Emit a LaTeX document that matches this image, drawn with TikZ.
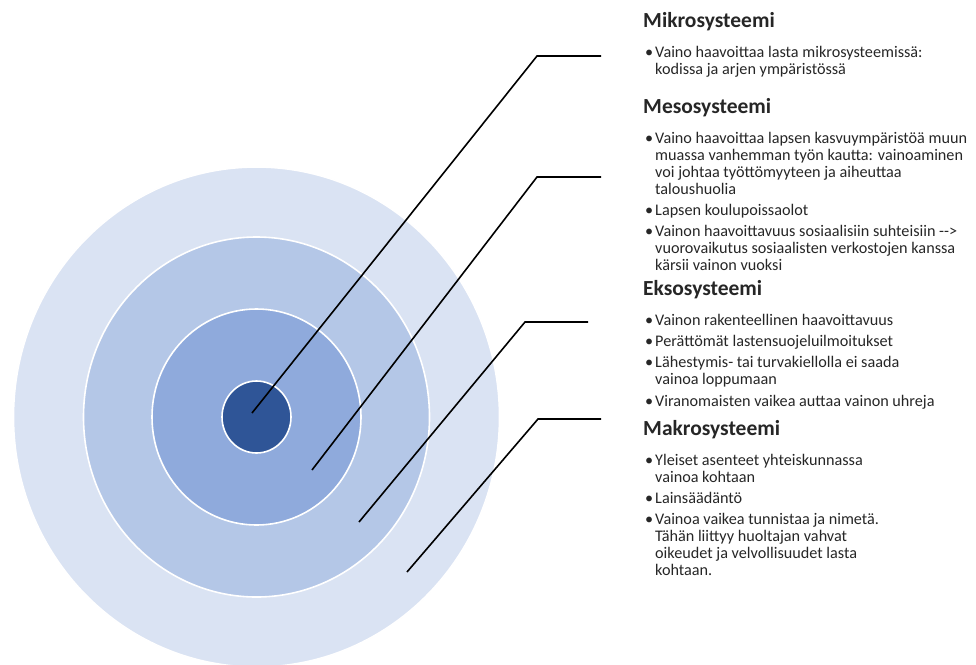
\documentclass[tikz,border=0pt]{standalone}
\usepackage{fontspec}
\setmainfont{Carlito}
\usepackage{tikz}
\usetikzlibrary{positioning}

\definecolor{rengasA}{HTML}{2F5597}
\definecolor{rengasB}{HTML}{8FAADC}
\definecolor{rengasC}{HTML}{B4C7E7}
\definecolor{rengasD}{HTML}{DAE3F3}
\definecolor{teksti}{HTML}{262626}

\newcommand{\pallo}{\strut\makebox[10pt][l]{\textbullet}}
\newcommand{\sis}{\strut\hspace*{10pt}}

\tikzset{
  otsikko/.style={anchor=base west, inner sep=0pt, text=teksti,
    font=\fontsize{21.5}{25}\selectfont\bfseries},
  kohta/.style={inner sep=0pt, align=left, text=teksti,
    font=\fontsize{16.2}{17}\selectfont},
  rengas/.style={draw=white, line width=1.6pt},
  viiva/.style={line width=1.6pt, black}
}

\begin{document}
\begin{tikzpicture}[x=1pt, y=-1pt]
      \useasboundingbox (0,0) rectangle (976,664);
      %
      \coordinate (o) at (256.5,417);
      \fill[rengasD, rengas] (o) ellipse [x radius=243, y radius=250];
      \fill[rengasC, rengas] (o) ellipse [x radius=173, y radius=180];
      \fill[rengasB, rengas] (o) ellipse [x radius=104.5, y radius=108];
      \fill[rengasA, rengas] (o) ellipse [x radius=34.5, y radius=36];
      %
      \coordinate (p1) at (252,413);
      \coordinate (k1) at (537,56);
      \coordinate (v1) at (601,56);
      \coordinate (p2) at (312,470);
      \coordinate (k2) at (537,177);
      \coordinate (v2) at (601,177);
      \coordinate (p3) at (359,522);
      \coordinate (k3) at (525,322);
      \coordinate (v3) at (588,322);
      \coordinate (p4) at (407,572);
      \coordinate (k4) at (538,419);
      \coordinate (v4) at (601,419);
      \draw[viiva] (p1) -- (k1) -- (v1);
      \draw[viiva] (p2) -- (k2) -- (v2);
      \draw[viiva] (p3) -- (k3) -- (v3);
      \draw[viiva] (p4) -- (k4) -- (v4);
      %
      \node[otsikko] (mikro) at (643,27) {Mikrosysteemi};
      \node[kohta, below right=18pt and 2pt of mikro.base west] (mi1)
        {\pallo Vaino haavoittaa lasta mikrosysteemissä:\\\sis kodissa ja arjen ympäristössä};
      %
      \node[otsikko] (meso) at (643,113) {Mesosysteemi};
      \node[kohta, below right=18pt and 2pt of meso.base west] (me1)
        {\pallo Vaino haavoittaa lapsen kasvuympäristöä muun\\\sis muassa vanhemman työn kautta: vainoaminen\\\sis voi johtaa työttömyyteen ja aiheuttaa\\\sis taloushuolia};
      \node[kohta, below right=4pt and 0pt of me1.south west] (me2)
        {\pallo Lapsen koulupoissaolot};
      \node[kohta, below right=4pt and 0pt of me2.south west] (me3)
        {\pallo Vainon haavoittavuus sosiaalisiin suhteisiin -{}->\\\sis vuorovaikutus sosiaalisten verkostojen kanssa\\\sis kärsii vainon vuoksi};
      %
      \node[otsikko] (ekso) at (643,295) {Eksosysteemi};
      \node[kohta, below right=18pt and 2pt of ekso.base west] (ek1)
        {\pallo Vainon rakenteellinen haavoittavuus};
      \node[kohta, below right=4pt and 0pt of ek1.south west] (ek2)
        {\pallo Perättömät lastensuojeluilmoitukset};
      \node[kohta, below right=4pt and 0pt of ek2.south west] (ek3)
        {\pallo Lähestymis- tai turvakiellolla ei saada\\\sis vainoa loppumaan};
      \node[kohta, below right=4pt and 0pt of ek3.south west] (ek4)
        {\pallo Viranomaisten vaikea auttaa vainon uhreja};
      %
      \node[otsikko] (makro) at (643,435) {Makrosysteemi};
      \node[kohta, below right=18pt and 2pt of makro.base west] (ma1)
        {\pallo Yleiset asenteet yhteiskunnassa\\\sis vainoa kohtaan};
      \node[kohta, below right=4pt and 0pt of ma1.south west] (ma2)
        {\pallo Lainsäädäntö};
      \node[kohta, below right=4pt and 0pt of ma2.south west] (ma3)
        {\pallo Vainoa vaikea tunnistaa ja nimetä.\\\sis Tähän liittyy huoltajan vahvat\\\sis oikeudet ja velvollisuudet lasta\\\sis kohtaan.};
    \end{tikzpicture}
\end{document}
